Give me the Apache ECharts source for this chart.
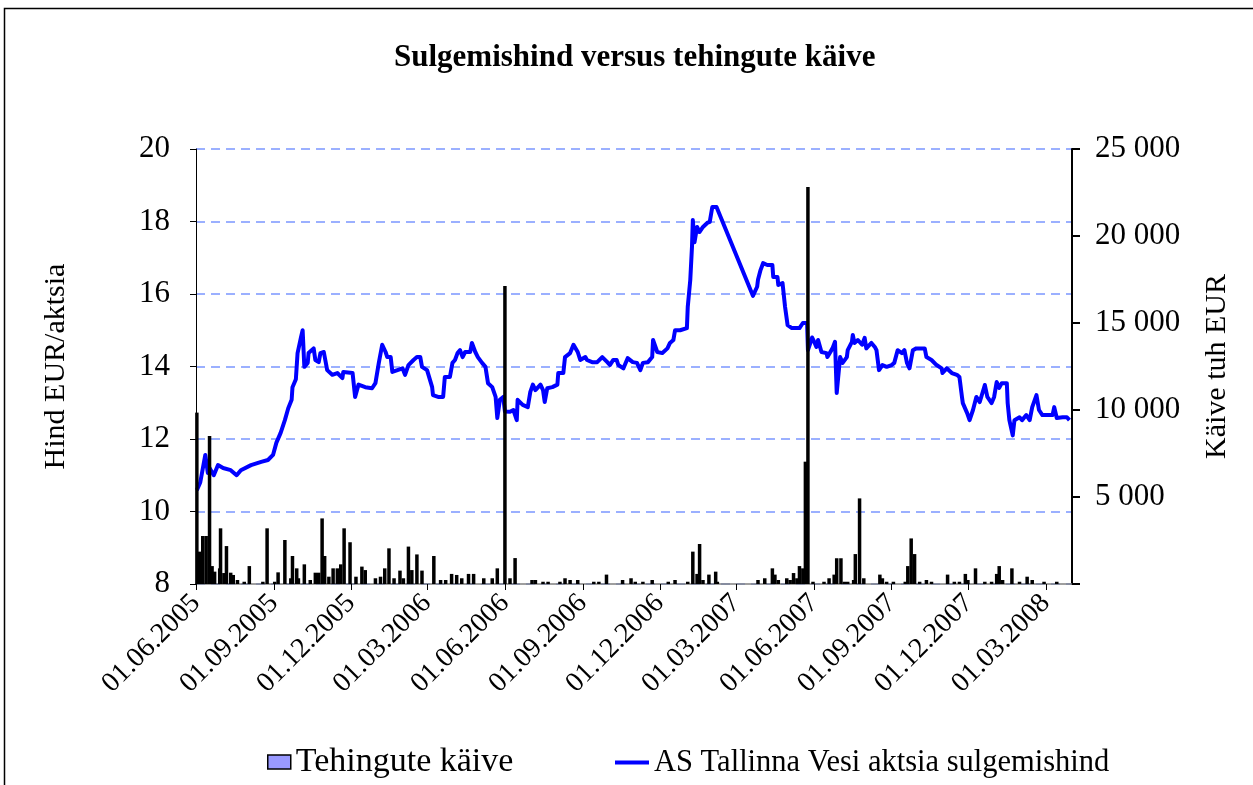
<!DOCTYPE html>
<html>
<head>
<meta charset="utf-8">
<script src="https://cdn.jsdelivr.net/npm/echarts@6/dist/echarts.min.js"></script>
<style>
html,body{margin:0;padding:0;background:#fff;}
#chart{width:1253px;height:785px;}
</style>
</head>
<body>
<div id="chart"></div>
<script>
// ---------- data ----------
const titleText = 'Sulgemishind versus tehingute käive';
const leftAxisName = 'Hind EUR/aktsia';
const rightAxisName = 'Käive tuh EUR';
const barSeriesName = 'Tehingute käive';
const lineSeriesName = 'AS Tallinna Vesi aktsia sulgemishind';

const tickDates = ['2005-06-01','2005-09-01','2005-12-01','2006-03-01','2006-06-01','2006-09-01',
  '2006-12-01','2007-03-01','2007-06-01','2007-09-01','2007-12-01','2008-03-01'];

const priceDates = [
'2005-06-02','2005-06-06','2005-06-12','2005-06-15','2005-06-17','2005-06-22','2005-06-27','2005-07-03',
'2005-07-12','2005-07-19','2005-07-24','2005-08-05','2005-08-17','2005-08-25','2005-08-31','2005-09-04',
'2005-09-09','2005-09-14','2005-09-18','2005-09-22','2005-09-23','2005-09-27','2005-09-29','2005-10-03',
'2005-10-05','2005-10-06','2005-10-07','2005-10-11','2005-10-12','2005-10-18','2005-10-20','2005-10-24',
'2005-10-26','2005-10-30','2005-11-03','2005-11-09','2005-11-15','2005-11-21','2005-11-22','2005-12-03',
'2005-12-06','2005-12-10','2005-12-18','2005-12-26','2005-12-30','2006-01-03','2006-01-07','2006-01-11',
'2006-01-13','2006-01-17','2006-01-19','2006-01-25','2006-01-31','2006-02-03','2006-02-07','2006-02-13',
'2006-02-17','2006-02-21','2006-02-23','2006-03-01','2006-03-07','2006-03-08','2006-03-14','2006-03-20',
'2006-03-22','2006-03-28','2006-03-31','2006-04-03','2006-04-06','2006-04-09','2006-04-12','2006-04-15',
'2006-04-21','2006-04-23','2006-04-25','2006-04-27','2006-04-30','2006-05-05','2006-05-09','2006-05-12',
'2006-05-17','2006-05-21','2006-05-23','2006-05-26','2006-05-30','2006-06-01','2006-06-07','2006-06-11',
'2006-06-15','2006-06-16','2006-06-22','2006-06-28','2006-07-01','2006-07-04','2006-07-07','2006-07-13',
'2006-07-16','2006-07-18','2006-07-21','2006-07-27','2006-08-02','2006-08-03','2006-08-09','2006-08-11',
'2006-08-17','2006-08-21','2006-08-26','2006-08-29','2006-09-04','2006-09-06','2006-09-12','2006-09-18',
'2006-09-24','2006-09-30','2006-10-03','2006-10-07','2006-10-11','2006-10-13','2006-10-19','2006-10-24',
'2006-10-30','2006-11-04','2006-11-08','2006-11-11','2006-11-17','2006-11-22','2006-11-23','2006-11-28',
'2006-12-04','2006-12-10','2006-12-13','2006-12-17','2006-12-19','2006-12-25','2007-01-02','2007-01-03',
'2007-01-06','2007-01-08','2007-01-09','2007-01-11','2007-01-14','2007-01-17','2007-01-21','2007-01-26',
'2007-01-29','2007-02-01','2007-02-06','2007-02-07','2007-03-21','2007-03-26','2007-03-27','2007-03-30',
'2007-04-02','2007-04-07','2007-04-13','2007-04-14','2007-04-19','2007-04-20','2007-04-25','2007-04-28',
'2007-05-01','2007-05-06','2007-05-15','2007-05-19','2007-05-24','2007-05-25','2007-05-30','2007-06-02',
'2007-06-04','2007-06-06','2007-06-10','2007-06-16','2007-06-17','2007-06-23','2007-06-26','2007-06-28',
'2007-07-02','2007-07-05','2007-07-10','2007-07-11','2007-07-16','2007-07-17','2007-07-19','2007-07-23',
'2007-07-28','2007-07-31','2007-08-02','2007-08-08','2007-08-12','2007-08-14','2007-08-17','2007-08-21',
'2007-08-26','2007-09-01','2007-09-04','2007-09-08','2007-09-13','2007-09-16','2007-09-19','2007-09-22',
'2007-09-26','2007-09-30','2007-10-10','2007-10-12','2007-10-18','2007-10-24','2007-10-30','2007-10-31',
'2007-11-05','2007-11-11','2007-11-17','2007-11-20','2007-11-23','2007-11-24','2007-11-29','2007-12-02',
'2007-12-06','2007-12-10','2007-12-14','2007-12-20','2007-12-23','2007-12-28','2007-12-31','2008-01-03',
'2008-01-06','2008-01-09','2008-01-15','2008-01-16','2008-01-18','2008-01-22','2008-01-24','2008-01-30',
'2008-02-02','2008-02-07','2008-02-11','2008-02-14','2008-02-19','2008-02-22','2008-02-26','2008-03-09',
'2008-03-11','2008-03-14','2008-03-21','2008-03-26','2008-03-29'
];
const priceValues = [
10.59,10.8,11.56,11.06,11.2,11.0,11.28,11.2,
11.14,11.0,11.14,11.28,11.37,11.42,11.56,11.9,
12.17,12.52,12.85,13.08,13.43,13.65,14.37,14.8,
15.0,15.0,13.99,14.1,14.37,14.5,14.18,14.12,
14.37,14.4,13.9,13.77,13.82,13.68,13.85,13.82,
13.16,13.5,13.43,13.4,13.54,14.1,14.6,14.4,
14.26,14.26,13.85,13.9,13.95,13.77,14.04,14.18,
14.26,14.26,13.99,13.9,13.43,13.21,13.16,13.16,
13.71,13.71,14.1,14.18,14.37,14.45,14.26,14.4,
14.4,14.65,14.65,14.4,14.26,14.1,13.99,13.54,
13.43,13.16,12.58,13.08,13.16,12.76,12.75,12.8,
12.52,13.08,12.94,12.88,13.3,13.5,13.35,13.5,
13.35,13.02,13.4,13.43,13.5,13.82,13.82,14.26,
14.37,14.6,14.4,14.18,14.26,14.18,14.12,14.12,
14.26,14.12,14.04,14.18,14.18,14.04,13.95,14.23,
14.12,14.1,13.9,14.1,14.12,14.26,14.73,14.4,
14.37,14.5,14.65,14.73,15.0,15.0,15.06,15.64,
16.39,17.3,18.04,17.43,17.85,17.71,17.85,17.96,
17.99,18.4,18.4,18.37,15.95,16.2,16.39,16.66,
16.85,16.8,16.8,16.47,16.47,16.25,16.3,15.64,
15.14,15.06,15.06,15.2,15.2,14.45,14.8,14.65,
14.54,14.73,14.4,14.37,14.26,14.5,14.68,13.27,
14.26,14.1,14.26,14.45,14.68,14.87,14.65,14.73,
14.6,14.79,14.5,14.65,14.54,14.45,13.9,14.04,
13.99,14.04,14.1,14.45,14.37,14.45,14.1,13.95,
14.45,14.5,14.5,14.26,14.18,14.04,13.95,13.82,
13.95,13.82,13.77,13.71,13.16,12.99,12.72,12.52,
12.8,13.16,13.02,13.49,13.16,12.99,13.16,13.57,
13.41,13.54,13.54,12.99,12.52,12.1,12.52,12.6,
12.52,12.66,12.52,12.88,13.21,12.8,12.66,12.66,
12.88,12.58,12.6,12.6,12.52
];

const volumeDates = [
'2005-06-02','2005-06-05','2005-06-09','2005-06-13','2005-06-17','2005-06-20','2005-06-23','2005-06-29',
'2005-06-30','2005-07-04','2005-07-07','2005-07-12','2005-07-15','2005-07-20','2005-07-28','2005-08-03',
'2005-08-19','2005-08-24','2005-09-02','2005-09-06','2005-09-14','2005-09-21','2005-09-23','2005-09-28',
'2005-09-30','2005-10-07','2005-10-14','2005-10-20','2005-10-24','2005-10-28','2005-10-31','2005-11-05',
'2005-11-10','2005-11-15','2005-11-19','2005-11-23','2005-11-30','2005-12-07','2005-12-14','2005-12-18',
'2005-12-30','2006-01-05','2006-01-10','2006-01-15','2006-01-21','2006-01-28','2006-02-01','2006-02-07',
'2006-02-11','2006-02-17','2006-02-23','2006-03-09','2006-03-17','2006-03-23','2006-03-30','2006-04-05',
'2006-04-11','2006-04-19','2006-04-25','2006-05-07','2006-05-17','2006-05-23','2006-06-01','2006-06-07',
'2006-06-13','2006-07-03','2006-07-07','2006-07-16','2006-07-22','2006-08-05','2006-08-11','2006-08-17',
'2006-08-26','2006-09-14','2006-09-20','2006-09-29','2006-10-18','2006-10-28','2006-11-02','2006-11-11',
'2006-11-22','2006-12-11','2006-12-19','2007-01-03','2007-01-09','2007-01-14','2007-01-17','2007-01-21',
'2007-01-28','2007-02-05','2007-02-07','2007-03-27','2007-04-04','2007-04-13','2007-04-16','2007-04-20',
'2007-04-30','2007-05-04','2007-05-08','2007-05-12','2007-05-15','2007-05-19','2007-05-22','2007-05-25',
'2007-05-31','2007-06-13','2007-06-19','2007-06-25','2007-06-28','2007-07-03','2007-07-07','2007-07-11',
'2007-07-18','2007-07-20','2007-07-25','2007-07-30','2007-08-18','2007-08-21','2007-08-26','2007-09-03',
'2007-09-17','2007-09-20','2007-09-24','2007-09-28','2007-10-04','2007-10-12','2007-10-18','2007-11-06',
'2007-11-14','2007-11-20','2007-11-27','2007-11-30','2007-12-09','2007-12-20','2007-12-28','2008-01-03',
'2008-01-06','2008-01-10','2008-01-21','2008-01-30','2008-02-08','2008-02-14','2008-02-28','2008-03-14'
];
const volumeValues = [
9850,1860,2760,2760,8500,1030,710,900,
3200,630,2180,650,520,230,130,1030,
130,3200,130,670,2530,330,1610,900,
330,1130,230,650,650,3770,1610,420,
900,900,1130,3200,2400,420,1000,800,
330,420,900,2050,330,770,330,2150,
800,1700,770,1610,230,230,580,520,
330,580,580,330,330,900,17130,330,
1490,230,230,130,130,130,330,230,
230,130,130,540,230,330,130,130,
230,130,230,130,1860,580,2300,230,
540,710,130,230,330,900,540,230,
330,230,630,330,1030,900,7030,22820,
130,130,330,540,1480,1480,130,130,
230,1720,4920,330,540,330,130,130,
130,1030,2620,1720,130,230,130,540,
130,130,580,230,900,130,130,580,
1030,230,900,130,420,230,130,130
];

// ---------- chart ----------
const FONT = '"Liberation Serif", "Times New Roman", serif';
function toTs(s){ const p = s.split('-').map(Number); return new Date(p[0], p[1]-1, p[2]).getTime(); }
const tickTs = tickDates.map(toTs);
const priceData = priceDates.map((d,i)=>[toTs(d), priceValues[i]]);
const volumeData = volumeDates.map((d,i)=>[toTs(d), volumeValues[i]]);
function fmtDate(v){
  const d = new Date(v);
  const dd = String(d.getDate()).padStart(2,'0');
  const mm = String(d.getMonth()+1).padStart(2,'0');
  return dd + '.' + mm + '.' + d.getFullYear();
}
function fmtThousands(v){
  if (v === 0) return '';
  return String(v).replace(/\B(?=(\d{3})+(?!\d))/g, ' ');
}

const chart = echarts.init(document.getElementById('chart'), null, {renderer:'canvas'});
chart.setOption({
  backgroundColor: '#ffffff',
  animation: false,
  title: {
    text: titleText,
    left: 394,
    top: 42,
    padding: 0,
    textStyle: {fontFamily: FONT, fontWeight: 'bold', fontSize: 31, color: '#000'}
  },
  graphic: [{
    type: 'rect', silent: true, z: -1,
    shape: {x: 4.5, y: 8.5, width: 1300, height: 800},
    style: {fill: 'none', stroke: '#000', lineWidth: 1.5}
  }],
  legend: [{
    left: 267, top: 745, padding: 0,
    data: [{name: barSeriesName, icon: 'rect', itemStyle: {color: '#9999ff', borderColor: '#000', borderWidth: 1.5}}],
    itemWidth: 23, itemHeight: 14, itemGap: 6,
    textStyle: {fontFamily: FONT, fontSize: 34, color: '#000'}
  },{
    left: 615, top: 747, padding: 0,
    data: [{name: lineSeriesName, icon: 'rect', itemStyle: {color: '#0000ff'}}],
    itemWidth: 34, itemHeight: 4, itemGap: 6,
    textStyle: {fontFamily: FONT, fontSize: 30.5, color: '#000'}
  }],
  grid: {left: 196, right: 181, top: 149, bottom: 201, containLabel: false},
  xAxis: {
    type: 'value',
    min: toTs('2005-06-01'),
    max: toTs('2008-04-01'),
    axisLine: {show: true, lineStyle: {color: '#808080', width: 1.5}},
    axisTick: {show: true, customValues: tickTs, length: 6, lineStyle: {color: '#000', width: 1}},
    axisLabel: {
      customValues: tickTs, rotate: 45, margin: 15,
      formatter: fmtDate,
      fontFamily: FONT, fontSize: 28, color: '#000'
    },
    splitLine: {show: false}
  },
  yAxis: [{
    type: 'value', min: 8, max: 20, interval: 2, position: 'left',
    name: leftAxisName, nameLocation: 'middle', nameGap: 125, nameRotate: 90,
    nameTextStyle: {fontFamily: FONT, fontSize: 30, color: '#000'},
    axisLine: {show: true, lineStyle: {color: '#000', width: 1}},
    axisTick: {show: true, length: 6, lineStyle: {color: '#000'}},
    axisLabel: {fontFamily: FONT, fontSize: 31, color: '#000', margin: 26},
    splitLine: {show: true, lineStyle: {color: '#7b96ff', width: 1.5, type: [9, 6]}}
  },{
    type: 'value', min: 0, max: 25000, interval: 5000, position: 'right',
    name: rightAxisName, nameLocation: 'middle', nameGap: 130, nameRotate: 90,
    nameTextStyle: {fontFamily: FONT, fontSize: 30, color: '#000'},
    axisLine: {show: true, lineStyle: {color: '#000', width: 2}},
    axisTick: {show: true, length: 8, lineStyle: {color: '#000', width: 2}},
    axisLabel: {fontFamily: FONT, fontSize: 31, color: '#000', margin: 23, formatter: fmtThousands},
    splitLine: {show: false}
  }],
  series: [{
    name: barSeriesName, type: 'bar', yAxisIndex: 1, z: 3,
    data: volumeData, barWidth: 3.5,
    itemStyle: {color: '#000'}
  },{
    name: lineSeriesName, type: 'line', yAxisIndex: 0, z: 2,
    data: priceData, showSymbol: false, symbol: 'none',
    lineStyle: {color: '#0000ff', width: 4, join: 'round'},
    itemStyle: {color: '#0000ff'}
  }]
});
</script>
</body>
</html>
